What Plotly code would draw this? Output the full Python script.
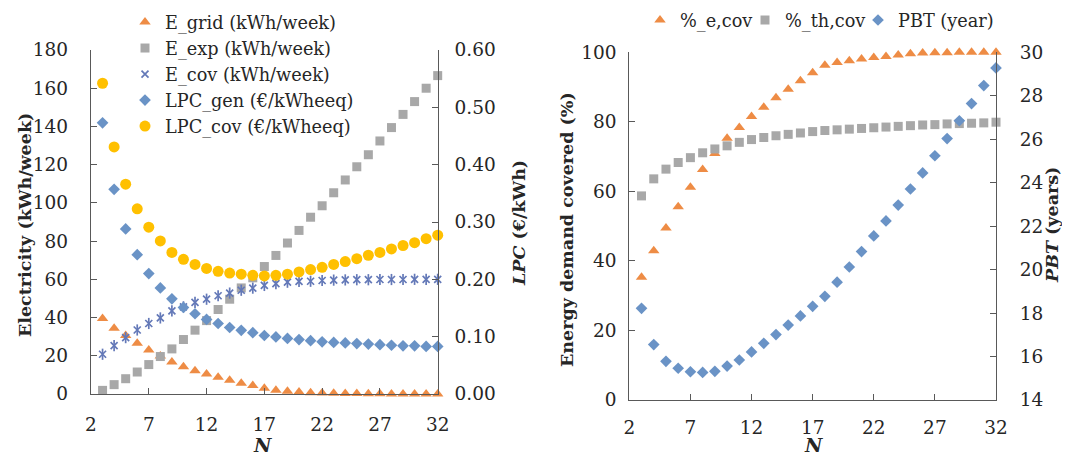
import plotly.graph_objects as go

N = list(range(3, 33))

# Left panel (kWh/week on left axis, €/kWheeq on right axis)
E_grid = [39.5, 34.4, 30.6, 26.5, 23.0, 19.9, 16.8, 14.3, 12.2, 10.5, 8.7, 7.2, 5.6, 4.4, 3.0,
          1.9, 1.4, 1.0, 0.7, 0.5, 0.35, 0.25, 0.2, 0.1, 0.1, 0.05, 0.05, 0.0, 0.0, 0.0]
E_exp = [1.9, 4.9, 8.0, 11.5, 15.4, 19.6, 23.6, 28.5, 33.4, 38.4, 44.2, 49.6, 55.5, 60.8, 66.7,
         72.5, 79.0, 85.6, 92.5, 98.5, 105.3, 112.0, 118.9, 125.2, 132.4, 139.4, 146.3, 153.0, 160.0, 166.6]
E_cov = [20.8, 25.3, 29.5, 33.5, 36.9, 39.8, 43.5, 45.6, 47.9, 49.6, 51.4, 52.8, 54.3, 55.4, 56.8,
         57.8, 58.5, 58.9, 59.0, 59.4, 59.6, 59.7, 59.8, 59.8, 59.9, 59.9, 59.9, 60.0, 60.0, 60.0]
LPC_gen = [0.473, 0.357, 0.288, 0.243, 0.210, 0.185, 0.166, 0.151, 0.140, 0.130, 0.123, 0.116, 0.111,
           0.107, 0.102, 0.0996, 0.097, 0.095, 0.093, 0.091, 0.090, 0.089, 0.088, 0.087, 0.086, 0.085,
           0.084, 0.084, 0.083, 0.083]
LPC_cov = [0.542, 0.431, 0.366, 0.323, 0.291, 0.267, 0.247, 0.235, 0.226, 0.219, 0.214, 0.211, 0.209,
           0.207, 0.206, 0.207, 0.209, 0.213, 0.217, 0.221, 0.226, 0.231, 0.236, 0.242, 0.247, 0.253,
           0.259, 0.264, 0.271, 0.277]

# Right panel
pct_e_cov = [35.3, 42.9, 49.5, 55.6, 61.2, 66.3, 70.9, 75.3, 78.4, 81.5, 84.2, 86.9, 89.4, 91.8, 94.1,
             96.3, 97.1, 97.6, 98.1, 98.5, 98.8, 99.2, 99.6, 99.8, 99.9, 99.9, 100.0, 100.0, 100.0, 100.0]
pct_th_cov = [58.7, 63.6, 66.4, 68.3, 69.7, 71.1, 72.2, 73.1, 74.1, 74.9, 75.5, 76.0, 76.4, 76.8, 77.2,
              77.5, 77.7, 77.9, 78.1, 78.3, 78.5, 78.7, 78.9, 79.1, 79.2, 79.4, 79.5, 79.6, 79.7, 79.9]
PBT = [18.22, 16.55, 15.78, 15.46, 15.30, 15.27, 15.32, 15.56, 15.84, 16.21, 16.61, 17.01, 17.45, 17.87,
       18.31, 18.77, 19.42, 20.12, 20.83, 21.55, 22.24, 22.97, 23.71, 24.45, 25.24, 26.03, 26.85, 27.64,
       28.47, 29.28]

x_ticks = [2, 7, 12, 17, 22, 27, 32]

ORANGE = "#EE8C45"
GRAY = "#A8A8A8"
BLUE = "#6A93C6"
STAR = "#6479B8"
YELLOW = "#FFC000"
AX = "#595959"
TXT = "#262626"
FONT = "DejaVu Serif"

# The page body margin offsets the figure by 8 px; the figure reaches the window edge.
W, H, OFF = 1062, 448, 8

fig = go.Figure()

def sc(y, name, sym, color, size, xa, ya, legend, line=None, showlegend=True):
    m = dict(symbol=sym, color=color, size=size)
    if line:
        m["line"] = line
    fig.add_trace(go.Scatter(x=N, y=y, name=name, mode="markers", marker=m,
                             xaxis=xa, yaxis=ya, legend=legend, cliponaxis=False,
                             showlegend=showlegend))

sc(E_grid, "E_grid (kWh/week)", "triangle-up", ORANGE, 10, "x", "y", "legend")
sc(E_exp, "E_exp (kWh/week)", "square", GRAY, 9, "x", "y", "legend")
sc(E_cov, "E_cov (kWh/week)", "x-thin-open", STAR, 7, "x", "y", "legend",
   line=dict(color=STAR, width=1.7))
sc(E_cov, "E_cov (kWh/week)", "line-ns-open", STAR, 8, "x", "y", "legend",
   line=dict(color=STAR, width=1.7), showlegend=False)
sc(LPC_gen, "LPC_gen (€/kWheeq)", "diamond", BLUE, 9, "x", "y2", "legend")
sc(LPC_cov, "LPC_cov (€/kWheeq)", "circle", YELLOW, 11, "x", "y2", "legend")

sc(pct_e_cov, "%_e,cov", "triangle-up", ORANGE, 10, "x2", "y3", "legend2")
sc(pct_th_cov, "%_th,cov", "square", GRAY, 9, "x2", "y3", "legend3")
sc(PBT, "PBT (year)", "diamond", BLUE, 9, "x2", "y4", "legend4")

tickfont = dict(family=FONT, size=18.5, color=TXT)
titlefont = dict(family=FONT, size=17.5, color=TXT)
nfont = dict(family=FONT, size=19, color=TXT)
legfont = dict(family=FONT, size=17.7, color=TXT)
common = dict(showline=True, linecolor=AX, linewidth=1.3, ticks="inside", ticklen=6,
              tickcolor=AX, tickwidth=1.3, showgrid=False, zeroline=False,
              tickfont=tickfont)

def px_x(a, b):
    return [(a - OFF) / W, (b - OFF) / W]

def px_y(top, bottom):
    return [(H + OFF - bottom) / H, (H + OFF - top) / H]

def pt(sx, sy):
    return (sx - OFF) / W, (H + OFF - sy) / H

xd1 = px_x(91, 437.7)
yd1 = px_y(50, 394)
xd2 = px_x(629.3, 996)
yd2 = px_y(52.3, 400)

def top_leg(left_px):
    return dict(x=(left_px - OFF) / W, y=1.0 + 6 / H, xanchor="left", yanchor="top",
                orientation="h", font=legfont, bgcolor="rgba(0,0,0,0)", itemwidth=30)

# axis titles (text, screen x, screen y, angle, font)
titles = [
    ("<b>Electricity (kWh/week)</b>", 25, 225, -90, titlefont),
    ("<b><i>LPC</i> (€/kWh)</b>", 519, 223, -90, titlefont),
    ("<b>Energy demand covered (%)</b>", 567, 230, -90, titlefont),
    ("<b><i>PBT</i> (years)</b>", 1052, 225, -90, titlefont),
    ("<b><i>N</i></b>", 262, 445, 0, nfont),
    ("<b><i>N</i></b>", 813, 445, 0, nfont),
]
annotations = []
for text, sx, sy, ang, f in titles:
    ax_, ay_ = pt(sx, sy)
    annotations.append(dict(text=text, x=ax_, y=ay_, xref="paper", yref="paper",
                            xanchor="center", yanchor="middle", textangle=ang,
                            showarrow=False, font=f))

fig.update_layout(
    width=W, height=H,
    margin=dict(l=0, r=0, t=0, b=0, autoexpand=False),
    paper_bgcolor="white", plot_bgcolor="white",
    font=dict(family=FONT, color=TXT),
    xaxis=dict(domain=xd1, range=[2, 32], tickvals=x_ticks, anchor="y",
               ticklabelstandoff=14, **common),
    yaxis=dict(domain=yd1, range=[0, 180], dtick=20, anchor="x",
               ticklabelstandoff=18, **common),
    yaxis2=dict(domain=yd1, range=[0, 0.6], dtick=0.1, tickformat=".2f", overlaying="y",
                side="right", anchor="x", ticklabelstandoff=12, **common),
    xaxis2=dict(domain=xd2, range=[2, 32], tickvals=x_ticks, anchor="y3",
                ticklabelstandoff=11, **common),
    yaxis3=dict(domain=yd2, range=[0, 100], dtick=20, anchor="x2",
                ticklabelstandoff=8, **common),
    yaxis4=dict(domain=yd2, range=[14, 30], dtick=2, overlaying="y3", side="right", anchor="x2",
                ticklabelstandoff=19, **common),
    legend=dict(x=(125 - OFF) / W, y=1.0 + 4 / H, xanchor="left", yanchor="top", orientation="v",
                font=legfont, bgcolor="rgba(0,0,0,0)", itemwidth=30),
    legend2=top_leg(640),
    legend3=top_leg(745),
    legend4=top_leg(858),
    annotations=annotations,
)

fig.write_html("out.html")
